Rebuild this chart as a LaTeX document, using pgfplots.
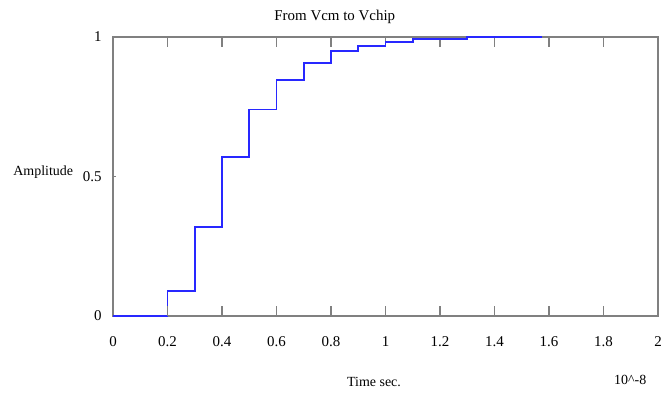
\documentclass[border=0pt]{standalone}
\usepackage{fontspec}
\setmainfont{Liberation Serif}
\usepackage{pgfplots}
\pgfplotsset{compat=1.18}
\definecolor{axgray}{RGB}{128,128,128}
\definecolor{lineblue}{RGB}{40,40,255}
\begin{document}
\begin{tikzpicture}
\path[use as bounding box] (0,0) rectangle (661bp,394bp);
\begin{axis}[
  at={(113bp,78bp)}, anchor=south west,
  scale only axis, width=545bp, height=279bp,
  xmin=0, xmax=2, ymin=0, ymax=1,
  xtick={0,0.2,0.4,0.6,0.8,1,1.2,1.4,1.6,1.8,2},
  xticklabels={0,0.2,0.4,0.6,0.8,1,1.2,1.4,1.6,1.8,2},
  ytick={0,0.5,1},
  yticklabels={0,0.5,1},
  axis line style={axgray, line width=1.5bp},
  xtick pos=both, ytick pos=left,
  tick align=inside,
  major tick length=10bp,
  x tick style={draw=axgray, line width=1.3bp},
  y tick style={draw=none},
  /pgf/number format/assume math mode=true,
  tick label style={font=\fontsize{15}{17}\selectfont},
  xticklabel style={yshift=-17bp},
  yticklabel style={xshift=-8bp},
  title={From Vcm to Vchip},
  title style={font=\fontsize{15}{17}\selectfont, at={(axis description cs:0.407,1.05)}, anchor=center},
  xlabel={Time sec.},
  xlabel style={font=\fontsize{14}{16}\selectfont, at={(axis description cs:0.479,-0.237)}, anchor=center},
  ylabel={Amplitude},
  ylabel style={font=\fontsize{14}{16}\selectfont, at={(axis description cs:-0.128,0.516)}, anchor=center, rotate=-90},
  clip=false,
]
\addplot[const plot, lineblue, line width=1.8bp, line join=miter] coordinates {
(0,0) (0.2,0.09) (0.3,0.32) (0.4,0.569) (0.5,0.740) (0.6,0.845) (0.7,0.908)
(0.8,0.950) (0.9,0.967) (1.0,0.982) (1.1,0.992) (1.3,1.0) (1.576,1.0)
};
\pgfplotsinvokeforeach{0.2,0.4,0.6,0.8,1,1.2,1.4,1.6,1.8}{
  \draw[axgray, line width=1.3bp] (axis cs:#1,0) -- ++(0,10bp);
}
\draw[axgray, line width=1.3bp] (axis cs:0,0.5) -- ++(3bp,0);
\node[font=\fontsize{14}{16}\selectfont] at (axis description cs:0.949,-0.23) {10\^{}-8};
\end{axis}
\end{tikzpicture}
\end{document}
